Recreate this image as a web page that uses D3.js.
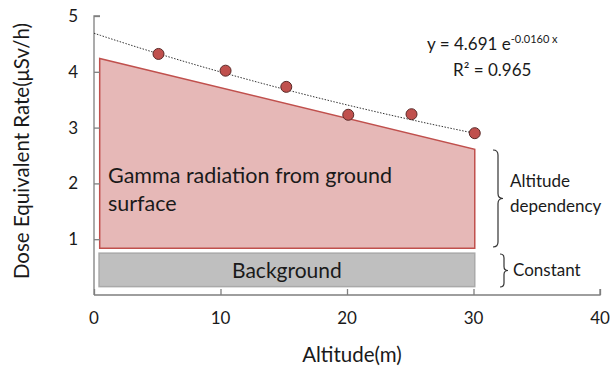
<!DOCTYPE html>
<meta charset="utf-8">
<style>
body { margin: 0; background: #fff; }
text { font-family: Lato, "Open Sans", sans-serif; fill: #1a1a1a; }
</style>
<svg width="611" height="369"></svg>
<script src="https://d3js.org/d3.v7.min.js"></script>
<script>

// measured dose rate vs altitude
var altitudes = [5.1, 10.4, 15.2, 20.1, 25.1, 30.1];
var doseRates = [4.32, 4.02, 3.73, 3.23, 3.24, 2.90];

// exponential fit y = a e^(b x)
var fitA = 4.691, fitB = -0.0160;
var fitRange = [0, 30.6];

// schematic regions
var gammaPoly = [[0.45, 0.84], [0.45, 4.24], [30.1, 2.61], [30.1, 0.84]];
var backgroundBox = { x0: 0.4, x1: 30.1, y0: 0.15, y1: 0.75 };

var xTicks = [0, 10, 20, 30, 40];
var yTicks = [1, 2, 3, 4, 5];

var svg = d3.select("svg");

var x = d3.scaleLinear().domain([0, 40]).range([94, 600]);
var y = d3.scaleLinear().domain([0, 5]).range([295, 16]);

// background box
svg.append("rect")
    .attr("x", x(backgroundBox.x0))
    .attr("y", y(backgroundBox.y1))
    .attr("width", x(backgroundBox.x1) - x(backgroundBox.x0))
    .attr("height", y(backgroundBox.y0) - y(backgroundBox.y1))
    .attr("fill", "#bfbfbf")
    .attr("stroke", "#a9a9a9")
    .attr("stroke-width", 1.5);

// gamma polygon
svg.append("path")
    .attr("d", d3.line().x(d => x(d[0])).y(d => y(d[1]))(gammaPoly) + "Z")
    .attr("fill", "#e6b8b7")
    .attr("stroke", "#c0504d")
    .attr("stroke-width", 1.5);

// axes
var xAxis = svg.append("g")
    .attr("transform", "translate(0," + y(0) + ")")
    .call(d3.axisTop(x).tickValues(xTicks).tickSize(6).tickFormat(""));
var yAxis = svg.append("g")
    .attr("transform", "translate(" + x(0) + ",0)")
    .call(d3.axisRight(y).tickValues(yTicks).tickSize(6).tickFormat(""));
[xAxis, yAxis].forEach(g => {
  g.select(".domain").attr("stroke", "#7f7f7f").attr("stroke-width", 1.3);
  g.selectAll(".tick line").attr("stroke", "#7f7f7f").attr("stroke-width", 1.3);
});
xAxis.select(".domain").attr("d", "M" + x(0) + ",0H" + x(40) + "v-6");
yAxis.select(".domain").attr("d", "M0," + y(0) + "V" + y(5) + "h6");

svg.append("g").selectAll("text")
    .data(xTicks)
    .join("text")
    .attr("x", d => x(d))
    .attr("y", 324)
    .attr("text-anchor", "middle")
    .attr("font-size", 17)
    .text(d => d);

svg.append("g").selectAll("text")
    .data(yTicks)
    .join("text")
    .attr("x", 78)
    .attr("y", d => y(d) + 6)
    .attr("text-anchor", "end")
    .attr("font-size", 17)
    .text(d => d);

// trend line
var fitPts = d3.range(fitRange[0], fitRange[1] + 0.01, 0.5).map(v => [v, fitA * Math.exp(fitB * v)]);
svg.append("path")
    .attr("d", d3.line().x(d => x(d[0])).y(d => y(d[1]))(fitPts))
    .attr("fill", "none")
    .attr("stroke", "#333")
    .attr("stroke-width", 1)
    .attr("stroke-dasharray", "1.5,1.5");

// points
svg.append("g").selectAll("circle")
    .data(altitudes)
    .join("circle")
    .attr("cx", d => x(d))
    .attr("cy", (d, i) => y(doseRates[i]))
    .attr("r", 5.5)
    .attr("fill", "#c0504d")
    .attr("stroke", "#5a2a28")
    .attr("stroke-width", 1);

// region labels
var gt = svg.append("text").attr("x", 108).attr("font-size", 21.5);
gt.append("tspan").attr("x", 108).attr("y", 183).text("Gamma radiation from ground");
gt.append("tspan").attr("x", 108).attr("y", 211).text("surface");

svg.append("text")
    .attr("x", (x(backgroundBox.x0) + x(backgroundBox.x1)) / 2)
    .attr("y", 278)
    .attr("text-anchor", "middle")
    .attr("font-size", 21)
    .text("Background");

// braces
function brace(x0, yTop, yBot, w) {
  var m = (yTop + yBot) / 2, h = w / 2;
  return "M" + x0 + "," + yTop +
    "Q" + (x0 + h) + "," + yTop + " " + (x0 + h) + "," + (yTop + h) +
    "L" + (x0 + h) + "," + (m - h) +
    "Q" + (x0 + h) + "," + m + " " + (x0 + w) + "," + m +
    "Q" + (x0 + h) + "," + m + " " + (x0 + h) + "," + (m + h) +
    "L" + (x0 + h) + "," + (yBot - h) +
    "Q" + (x0 + h) + "," + yBot + " " + x0 + "," + yBot;
}
svg.append("path").attr("d", brace(493, 150, 247, 10))
    .attr("fill", "none").attr("stroke", "#333").attr("stroke-width", 1.2);
svg.append("path").attr("d", brace(500, 254, 287, 8))
    .attr("fill", "none").attr("stroke", "#333").attr("stroke-width", 1.2);

var ad = svg.append("text").attr("font-size", 17);
ad.append("tspan").attr("x", 510).attr("y", 187).text("Altitude");
ad.append("tspan").attr("x", 510).attr("y", 212).text("dependency");
svg.append("text").attr("x", 513).attr("y", 276).attr("font-size", 17).text("Constant");

// equation
var eq = svg.append("text").attr("x", 427).attr("y", 50).attr("font-size", 17);
eq.append("tspan").text("y = 4.691 e");
eq.append("tspan").attr("font-size", 11).attr("dy", -7).text("-0.0160 x");
svg.append("text").attr("x", 453).attr("y", 76).attr("font-size", 17).text("R² = 0.965");

// axis titles
svg.append("text")
    .attr("x", 352)
    .attr("y", 362)
    .attr("text-anchor", "middle")
    .attr("font-size", 20.5)
    .text("Altitude(m)");
svg.append("text")
    .attr("transform", "translate(29,151) rotate(-90)")
    .attr("text-anchor", "middle")
    .attr("font-size", 20.5)
    .text("Dose Equivalent Rate(μSv/h)");

</script>
